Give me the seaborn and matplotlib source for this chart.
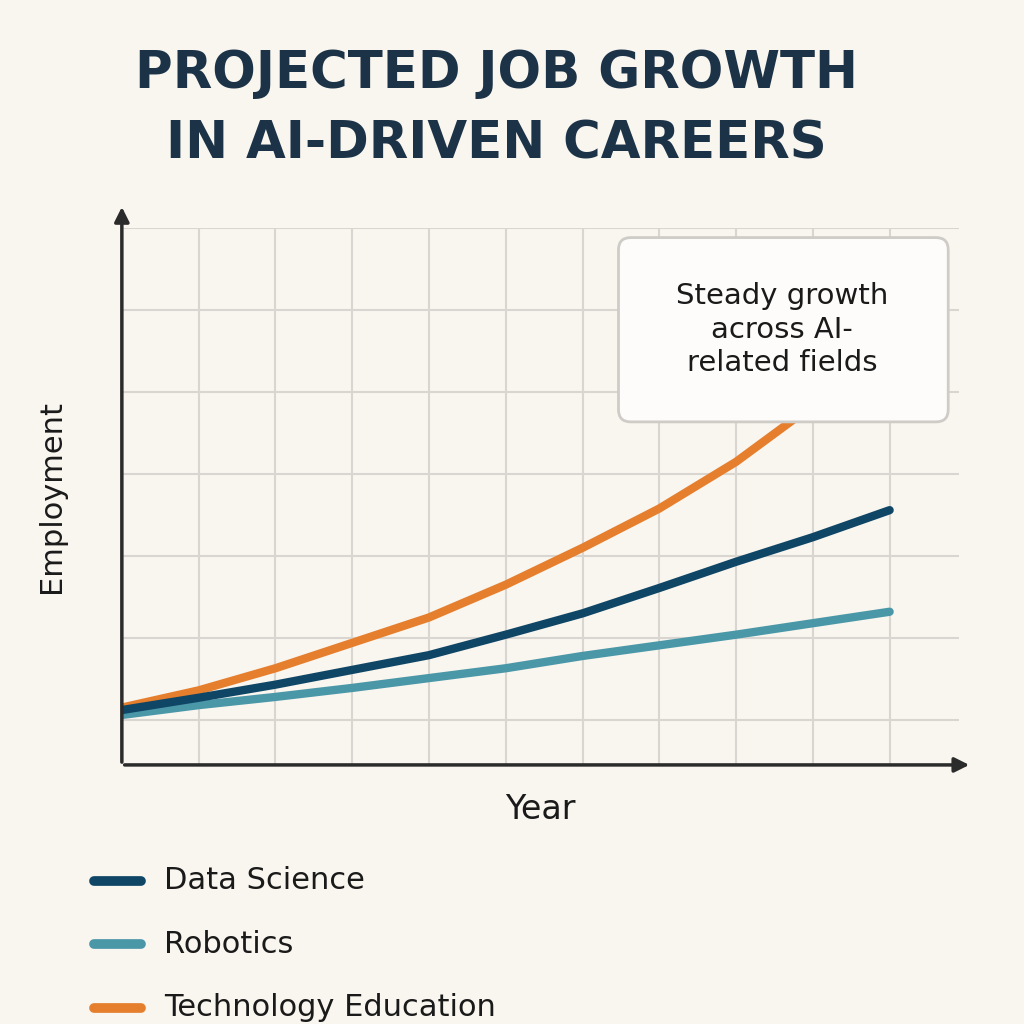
import numpy as np
import pandas as pd
import matplotlib
matplotlib.use("Agg")
import matplotlib.pyplot as plt
import seaborn as sns
from matplotlib.patches import FancyBboxPatch

# data (arbitrary employment units)
years = list(range(2020, 2031))
data_science = [0.67, 0.82, 0.98, 1.16, 1.34, 1.59, 1.85, 2.16, 2.48, 2.78, 3.11]
robotics = [0.61, 0.73, 0.83, 0.94, 1.06, 1.18, 1.33, 1.46, 1.59, 1.73, 1.87]
tech_education = [0.70, 0.91, 1.18, 1.49, 1.80, 2.20, 2.65, 3.13, 3.70, 4.39, 5.12]
series_names = ["Data Science", "Robotics", "Technology Education"]

df = pd.DataFrame({
    "Year": years * 3,
    "Employment": data_science + robotics + tech_education,
    "Field": np.repeat(series_names, len(years)),
})

bg = "#f9f5ef"
navy = "#1c3347"
palette = {"Data Science": "#0f4666", "Robotics": "#4a97a8", "Technology Education": "#e57f2e"}

fig = plt.figure(figsize=(10.24, 10.24), dpi=100, facecolor=bg)
ax = fig.add_axes([0.119, 0.253, 0.818, 0.524], facecolor=bg)

# draw orange first so the navy/teal sit on top as in the picture
for name in ["Technology Education", "Robotics", "Data Science"]:
    sns.lineplot(data=df[df.Field == name], x="Year", y="Employment",
                 color=palette[name], lw=6, ax=ax, solid_capstyle="round", legend=False)

ax.set_xlim(2020, 2030.91)
ax.set_ylim(0, 6.55)
ax.set_xticks(np.arange(2021, 2031))
ax.set_yticks(np.arange(0.55, 6.6, 1.0))
ax.grid(True, color="#d9d6d2", lw=1.5)
ax.tick_params(length=0, labelbottom=False, labelleft=False)
for s in ax.spines.values():
    s.set_visible(False)

# axes with arrows
ax.annotate("", xy=(1.015, 0), xytext=(0, 0), xycoords="axes fraction",
            arrowprops=dict(arrowstyle="-|>", color="#2b2b2b", lw=2.5, mutation_scale=22), clip_on=False)
ax.annotate("", xy=(0, 1.045), xytext=(0, 0), xycoords="axes fraction",
            arrowprops=dict(arrowstyle="-|>", color="#2b2b2b", lw=2.5, mutation_scale=22), clip_on=False)

ax.set_xlabel("Year", fontsize=24, color="#1a1a1a", labelpad=20)
ax.set_ylabel("Employment", fontsize=22, color="#1a1a1a", labelpad=40)

# callout box
box = FancyBboxPatch((0.604, 0.588), 0.322, 0.18, transform=fig.transFigure,
                     boxstyle="round,pad=0,rounding_size=0.012",
                     facecolor="#fdfcfa", edgecolor="#cfccc7", lw=2, zorder=5)
fig.patches.append(box)
fig.text(0.764, 0.678, "Steady growth\nacross AI-\nrelated fields", ha="center", va="center",
         fontsize=21, color="#1a1a1a", linespacing=1.25, zorder=6)

fig.text(0.485, 0.928, "PROJECTED JOB GROWTH", ha="center", va="center",
         fontsize=37, fontweight="bold", color=navy)
fig.text(0.485, 0.859, "IN AI-DRIVEN CAREERS", ha="center", va="center",
         fontsize=37, fontweight="bold", color=navy)

# legend
for i, name in enumerate(series_names):
    y = 0.14 - i * 0.062
    fig.add_artist(plt.Line2D([0.092, 0.138], [y, y], color=palette[name], lw=7,
                              solid_capstyle="round", transform=fig.transFigure))
    fig.text(0.16, y, name, fontsize=22, va="center", color="#1a1a1a")

fig.savefig("out.png", dpi=100, facecolor=bg)
